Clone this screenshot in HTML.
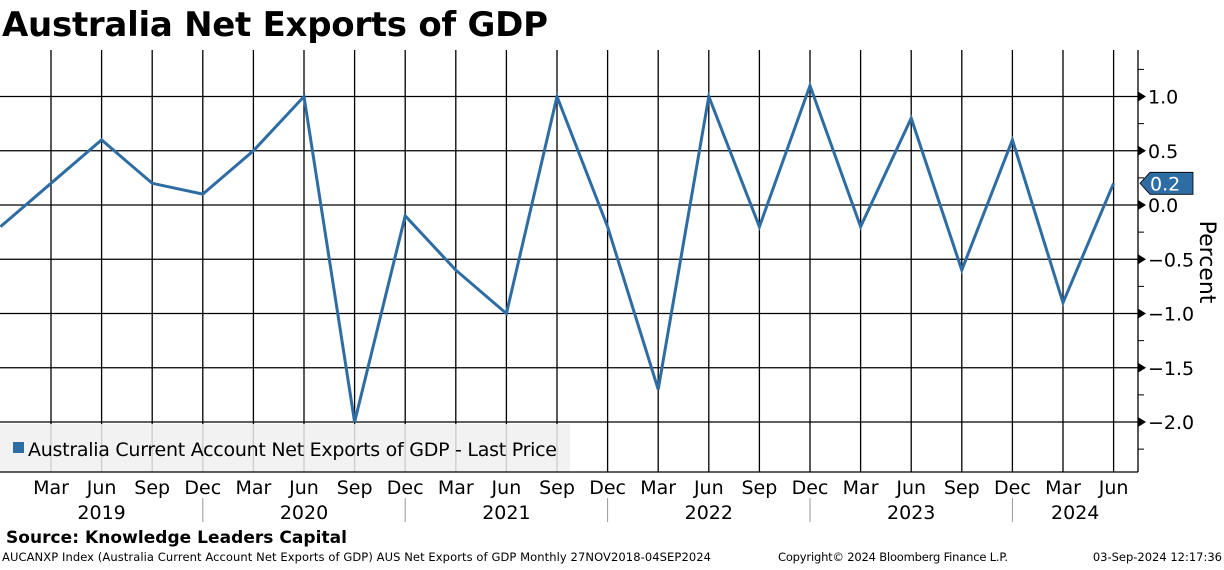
<!DOCTYPE html>
<html><head><meta charset="utf-8"><style>
body{margin:0;background:#fff;width:1224px;height:566px;overflow:hidden;font-family:"DejaVu Sans","Liberation Sans",sans-serif}
</style></head><body>
<svg id="c" width="1224" height="566" xmlns="http://www.w3.org/2000/svg">
<text x="2" y="36" font-size="34" font-weight="bold" font-family="'DejaVu Sans',sans-serif" textLength="546">Australia Net Exports of GDP</text>
<g id="grid"></g>
<g id="legend"></g>
<g id="series"></g>
<g id="axes"></g>
<text x="6" y="543" font-size="17" font-weight="bold" textLength="341">Source: Knowledge Leaders Capital</text>
<text x="2" y="561" font-size="11.5" textLength="709">AUCANXP Index (Australia Current Account Net Exports of GDP) AUS Net Exports of GDP  Monthly 27NOV2018-04SEP2024</text>
<text x="778" y="561" font-size="11.5" textLength="230">Copyright© 2024 Bloomberg Finance L.P.</text>
<text x="1222" y="561" font-size="11.5" text-anchor="end">03-Sep-2024 12:17:36</text>
</svg>
<script>
const quarters=["Dec","Mar","Jun","Sep","Dec","Mar","Jun","Sep","Dec","Mar","Jun","Sep","Dec","Mar","Jun","Sep","Dec","Mar","Jun","Sep","Dec","Mar","Jun"];
const values=[-0.2,0.2,0.6,0.2,0.1,0.5,1.0,-2.0,-0.1,-0.6,-1.0,1.0,-0.2,-1.7,1.0,-0.2,1.1,-0.2,0.8,-0.6,0.6,-0.9,0.2];
const yTicks=[1.0,0.5,0.0,-0.5,-1.0,-1.5,-2.0];
const years=["2019","2020","2021","2022","2023","2024"];
const lastValue="0.2";
const NS="http://www.w3.org/2000/svg";
const X0=0.4,DX=50.6,PL=0,PR=1138,PT=50,PB=472;
function x(i){return X0+i*DX;}
function y(v){return 205-v*108.5;}
function el(t,a,p){const e=document.createElementNS(NS,t);for(const k in a)e.setAttribute(k,a[k]);p.appendChild(e);return e;}
const grid=document.getElementById('grid'),axes=document.getElementById('axes'),ser=document.getElementById('series'),leg=document.getElementById('legend');
yTicks.forEach(v=>{
 const l=el('line',{x1:PL,x2:PR,y1:y(v),y2:y(v),stroke:'#000','stroke-width':1.3},grid);
 
 
 const p=el('path',{d:`M${PR} ${y(v)-5}L${PR+8} ${y(v)}L${PR} ${y(v)+5}Z`,fill:'#000'},axes);
 
 
 const t=el('text',{x:PR+10,y:y(v)+7,'font-size':19},axes);t.textContent=v.toFixed(1).replace('-','−');
 
 
});
for(let v=-2.25;v<=1.3;v+=0.5){const m=el('line',{x1:PR,x2:PR+6,y1:y(v),y2:y(v),stroke:'#000'},axes);
 
 }
quarters.forEach((q,i)=>{
 if(i===0)return;
 const l=el('line',{x1:x(i),x2:x(i),y1:PT,y2:PB,stroke:'#000','stroke-width':1.3},grid);
 
 
 const t=el('text',{x:x(i),y:494,'font-size':19,'text-anchor':'middle'},axes);t.textContent=q;
 
 
 if(q==='Dec'){const s=el('line',{x1:x(i),x2:x(i),y1:498,y2:522,stroke:'#999'},axes);
 
 }
});
years.forEach((yr,k)=>{let c=x(2+4*k);if(k===years.length-1)c=(x(4*k)+PR)/2;const t=el('text',{x:c,y:519,'font-size':19,'text-anchor':'middle'},axes);t.textContent=yr;
 
 });
const ax=el('line',{x1:PR,x2:PR,y1:PT,y2:PB,stroke:'#000','stroke-width':1.3},axes);


const bx=el('line',{x1:0,x2:PR,y1:PB,y2:PB,stroke:'#000','stroke-width':1.3},axes);


const pt=el('text',{x:0,y:0,'font-size':22,transform:`translate(1200,262) rotate(90)`,'text-anchor':'middle'},axes);pt.textContent='Percent';


const lb=el('rect',{x:0,y:424,width:570,height:48,fill:'#f0f0f0','fill-opacity':0.85},leg);


const ls=el('rect',{x:13,y:442,width:11,height:11,fill:'#2e6ca4'},leg);


const lt=el('text',{x:28,y:456,'font-size':19,textLength:529},leg);lt.textContent='Australia Current Account Net Exports of GDP - Last Price';


const line=el('polyline',{points:values.map((v,i)=>x(i)+','+y(v)).join(' '),fill:'none',stroke:'#2e6ca4','stroke-width':3,'stroke-linejoin':'miter'},ser);


const lv=values[values.length-1],ly=y(lv);
const tag=el('path',{d:`M1140 ${ly}L1150 ${ly-11}L1193 ${ly-11}L1193 ${ly+11}L1150 ${ly+11}Z`,fill:'#2e6ca4',stroke:'#000','stroke-width':0.8},axes);


const tt=el('text',{x:1150,y:ly+7,'font-size':19,fill:'#fff'},axes);tt.textContent=lastValue;


</script>
</body></html>
